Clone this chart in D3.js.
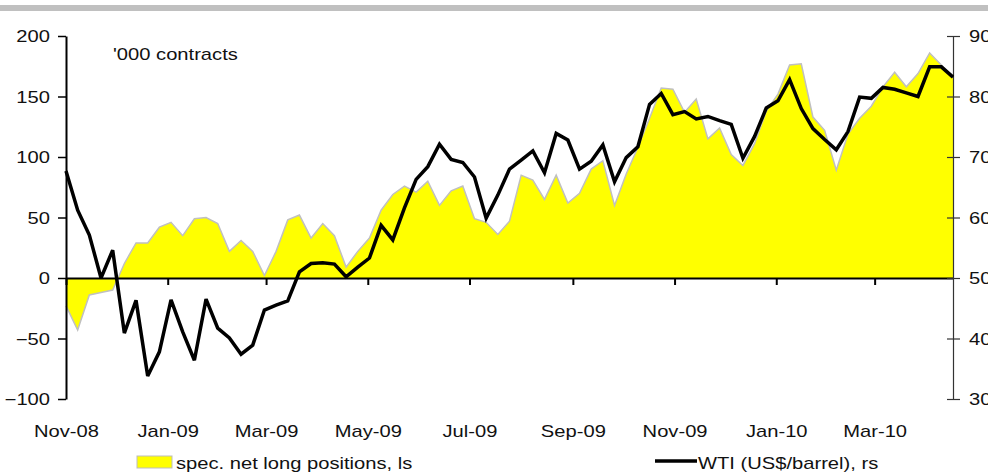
<!DOCTYPE html>
<html>
<head>
<meta charset="utf-8">
<script src="https://cdn.jsdelivr.net/npm/d3@7"></script>
<style>
  html, body { margin: 0; padding: 0; background: #fff; }
  svg { display: block; }
  text { font-family: "Liberation Sans", Arial, sans-serif; font-size: 16px; fill: #111; }
</style>
</head>
<body>
<svg id="chart" width="988" height="473"></svg>
<script>
// ---- data ----
const startDate = "2008-11-01";           // first weekly observation
const endDate = "2010-04-17";             // last weekly observation
const netLong = [ // spec. net long positions, '000 contracts (left scale)
  -23, -43, -14, -12, -10, 12, 29, 29, 42, 46, 35, 49, 50, 45, 22, 31, 22, 2, 22, 48,
  52, 33, 45, 35, 9, 22, 33, 56, 69, 76, 71, 80, 60, 72, 76, 49, 46, 36, 47, 85,
  81, 65, 85, 62, 70, 90, 97, 60, 86, 108, 132, 157, 156, 137, 148, 115, 124, 102, 93, 111,
  138, 152, 176, 177, 133, 122, 89, 119, 132, 142, 158, 170, 158, 169, 186, 176, 166
];
const wti = [ // WTI US$/barrel (right scale)
  67.7, 61.2, 57.1, 50.0, 54.6, 40.9, 46.3, 33.8, 37.8, 46.4, 41.1, 36.4, 46.5, 41.7, 40.1, 37.4, 38.9, 44.7, 45.5, 46.2,
  51.0, 52.4, 52.5, 52.3, 50.2, 51.8, 53.3, 58.7, 56.3, 61.6, 66.3, 68.4, 72.1, 69.6, 69.1, 66.7, 59.9, 63.7, 68.0, 69.5,
  71.0, 67.4, 73.9, 72.8, 68.0, 69.3, 72.0, 65.9, 69.9, 71.7, 78.7, 80.5, 77.0, 77.5, 76.3, 76.7, 76.0, 75.4, 69.8, 73.4,
  78.1, 79.3, 82.8, 78.0, 74.7, 72.9, 71.2, 74.2, 79.9, 79.7, 81.5, 81.2, 80.6, 80.0, 84.9, 84.9, 83.2
];
const leftTicks = [-100, -50, 0, 50, 100, 150, 200];
const rightTicks = [30, 40, 50, 60, 70, 80, 90];
const xTickDates = ["2008-11-01", "2009-01-01", "2009-03-01", "2009-05-01", "2009-07-01",
                    "2009-09-01", "2009-11-01", "2010-01-01", "2010-03-01"];
const unitLabel = "'000 contracts";
const legendArea = "spec. net long positions, ls";
const legendLine = "WTI (US$/barrel), rs";

// ---- setup ----
const parse = d3.utcParse("%Y-%m-%d");
const t0 = parse(startDate);
const dates = netLong.map((_, i) => d3.utcDay.offset(t0, 7 * i));
const data = dates.map((d, i) => ({ date: d, net: netLong[i], wti: wti[i] }));

const svg = d3.select("#chart");
const W = 988, H = 473;
const plot = { left: 66, right: 953, top: 36, bottom: 399 };
const SX = 1.26; // horizontal text stretch to mimic the reference font

const x = d3.scaleUtc().domain([t0, parse(endDate)]).range([plot.left, plot.right]);
const yL = d3.scaleLinear().domain([-100, 200]).range([plot.bottom, plot.top]);
const yR = d3.scaleLinear().domain([30, 90]).range([plot.bottom, plot.top]);

function stretch(sel) {
  sel.each(function () {
    const t = d3.select(this);
    const tx = +t.attr("x") || 0, ty = +t.attr("y") || 0;
    t.attr("x", 0).attr("y", 0)
     .attr("transform", `translate(${tx},${ty}) scale(${SX},1)`);
  });
}

// top grey band
svg.append("rect").attr("x", 0).attr("y", 5).attr("width", W).attr("height", 6).attr("fill", "#c0c0c0");

// area
const area = d3.area().x(d => x(d.date)).y0(yL(0)).y1(d => yL(d.net));
svg.append("path").datum(data).attr("d", area).attr("fill", "#ffff00");
svg.append("path").datum(data)
  .attr("d", d3.line().x(d => x(d.date)).y(d => yL(d.net)))
  .attr("fill", "none").attr("stroke", "#c0c0c0").attr("stroke-width", 1.5);

// x axis along zero
const gx = svg.append("g").attr("transform", `translate(0,${yL(0)})`)
  .call(d3.axisBottom(x).tickValues(xTickDates.map(parse)).tickSize(7).tickSizeOuter(0)
        .tickFormat(d3.utcFormat("%b-%y")));
gx.select(".domain").attr("stroke", "#000").attr("stroke-width", 2);
gx.selectAll(".tick line").attr("stroke", "#000").attr("stroke-width", 2);
gx.selectAll(".tick text").attr("y", 148).attr("font-size", 16).attr("font-family", null).attr("fill", "#111");
gx.selectAll(".tick text").call(stretch);

// left axis
const gl = svg.append("g").attr("transform", `translate(${plot.left},0)`)
  .call(d3.axisLeft(yL).tickValues(leftTicks).tickSize(8).tickSizeOuter(0));
gl.select(".domain").attr("stroke", "#000").attr("stroke-width", 2);
gl.selectAll(".tick line").attr("stroke", "#000").attr("stroke-width", 1.5);
gl.selectAll(".tick text").attr("x", -16).attr("font-size", 16).attr("font-family", null).attr("fill", "#111")
  .attr("dy", "0.36em");
gl.selectAll(".tick text").call(stretch);

// right axis
const gr = svg.append("g").attr("transform", `translate(${plot.right},0)`)
  .call(d3.axisRight(yR).tickValues(rightTicks).tickSize(7).tickSizeOuter(0));
gr.select(".domain").attr("stroke", "#333").attr("stroke-width", 1.2);
gr.selectAll(".tick line").attr("x1", -6).attr("stroke", "#333").attr("stroke-width", 1.2);
gr.selectAll(".tick text").attr("x", 16).attr("font-size", 16).attr("font-family", null).attr("fill", "#111")
  .attr("dy", "0.36em");
gr.selectAll(".tick text").call(stretch);

// WTI line
svg.append("path").datum(data)
  .attr("d", d3.line().x(d => x(d.date)).y(d => yR(d.wti)))
  .attr("fill", "none").attr("stroke", "#000").attr("stroke-width", 3.5)
  .attr("stroke-linejoin", "miter").attr("stroke-miterlimit", 3);

// unit label
svg.append("text").attr("x", 113).attr("y", 60).text(unitLabel).call(stretch);

// legend
svg.append("rect").attr("x", 137).attr("y", 456).attr("width", 35).attr("height", 12)
  .attr("fill", "#ffff00").attr("stroke", "#bdbdbd").attr("stroke-width", 1);
svg.append("text").attr("x", 176).attr("y", 469).text(legendArea).call(stretch);
svg.append("line").attr("x1", 655).attr("x2", 697).attr("y1", 461).attr("y2", 461)
  .attr("stroke", "#000").attr("stroke-width", 3.5);
svg.append("text").attr("x", 698).attr("y", 469).text(legendLine).call(stretch);
</script>
</body>
</html>
